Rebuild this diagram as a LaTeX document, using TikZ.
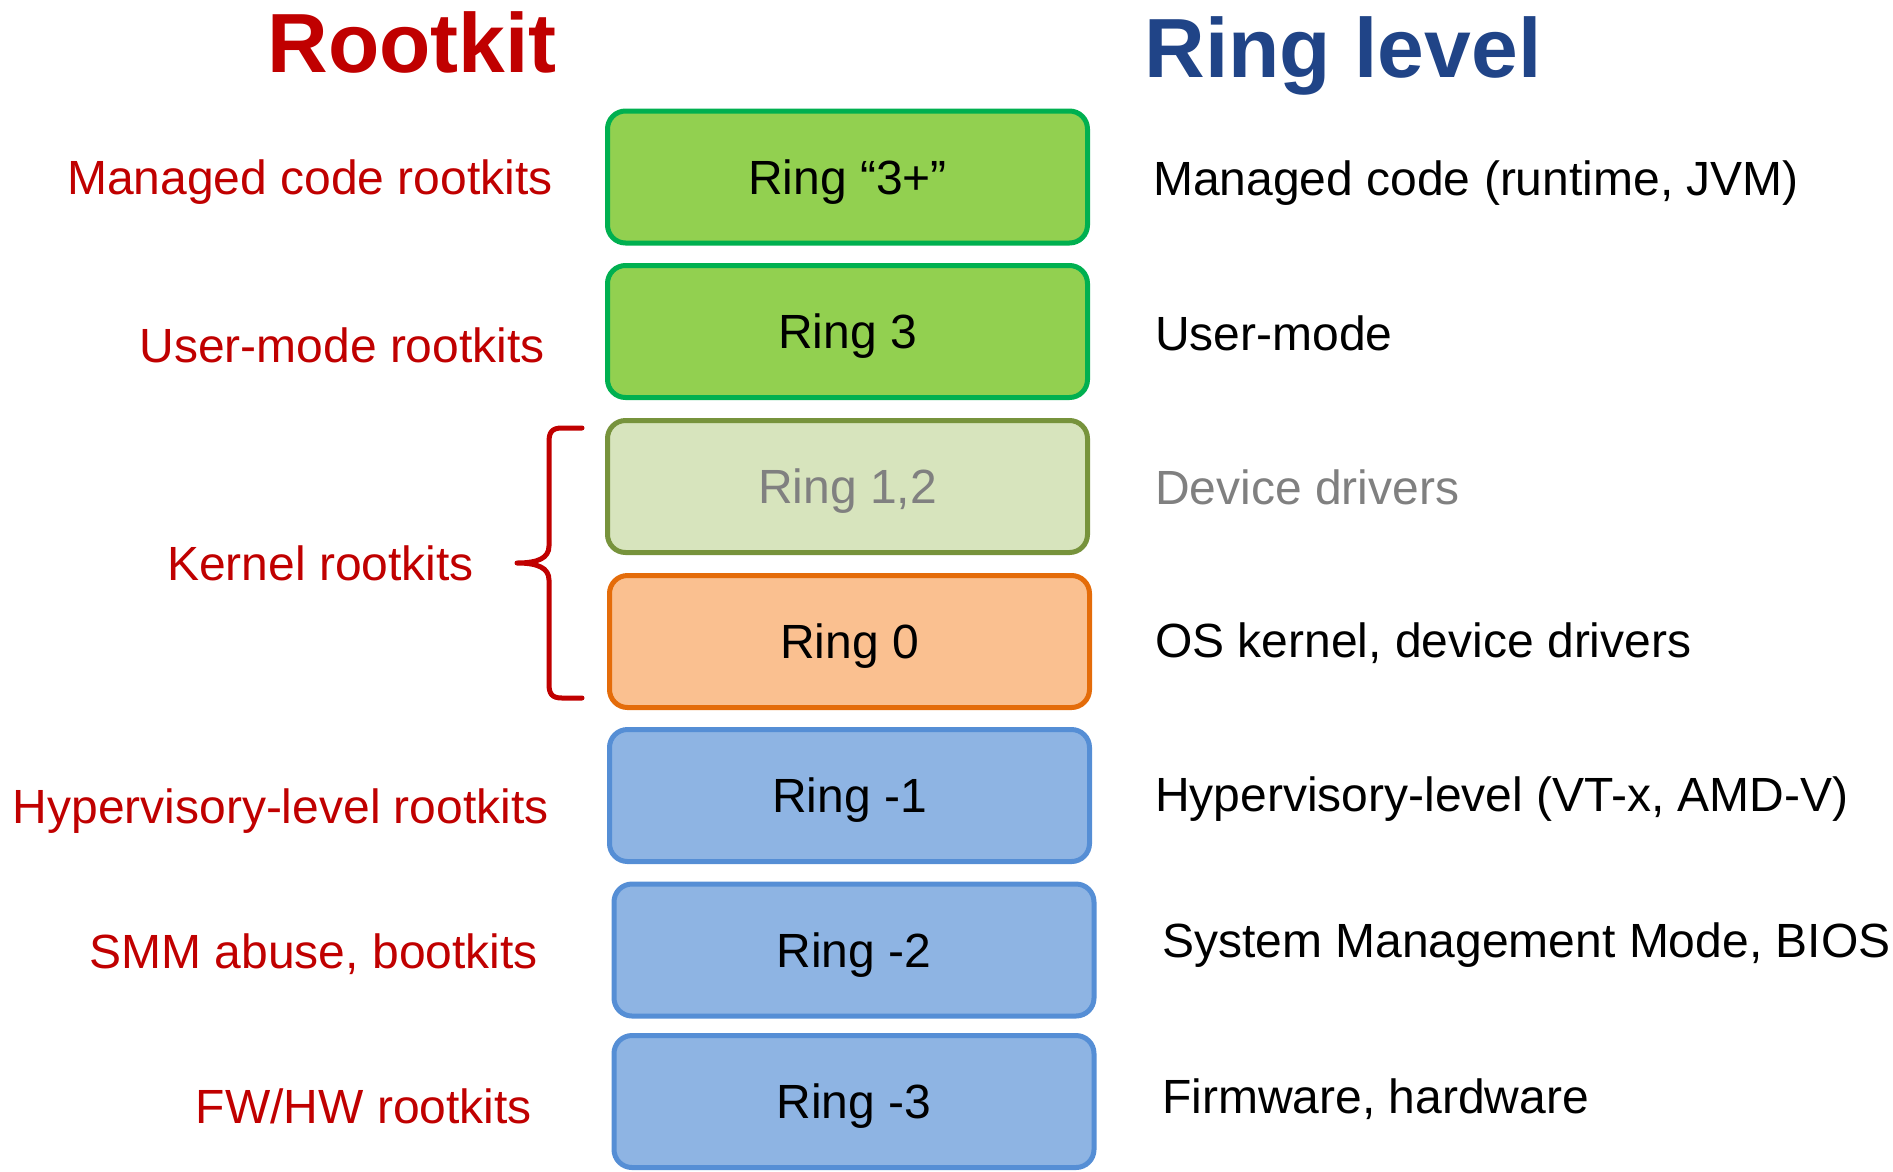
\documentclass[tikz,border=0pt]{standalone}
\usepackage{fontspec}
\setmainfont{Liberation Sans}
\definecolor{rkred}{HTML}{C00000}
\definecolor{lvblue}{RGB}{32,68,135}
\definecolor{grnfill}{HTML}{92D050}
\definecolor{grnline}{HTML}{00B050}
\definecolor{olvfill}{HTML}{D7E4BD}
\definecolor{olvline}{HTML}{77933C}
\definecolor{orgfill}{HTML}{FAC090}
\definecolor{orgline}{HTML}{E46C0A}
\definecolor{blufill}{HTML}{8EB4E3}
\definecolor{bluline}{HTML}{558ED5}
\definecolor{dimtext}{HTML}{808080}
\tikzset{
  ringbox/.style={draw, line width=5pt, rounded corners=18pt, inner sep=0pt,
    minimum width=480pt, minimum height=132pt, text height=34.4pt, text depth=0pt,
    font=\fontsize{48}{56}\selectfont},
  greenbox/.style={ringbox, fill=grnfill, draw=grnline},
  olivebox/.style={ringbox, fill=olvfill, draw=olvline, text=dimtext},
  orangebox/.style={ringbox, fill=orgfill, draw=orgline},
  bluebox/.style={ringbox, fill=blufill, draw=bluline},
  kitlabel/.style={anchor=base east, inner sep=0pt, text=rkred, font=\fontsize{48}{56}\selectfont},
  lvllabel/.style={anchor=base west, inner sep=0pt, font=\fontsize{48}{56}\selectfont},
  heading/.style={anchor=base, inner sep=0pt, font=\fontsize{84}{96}\selectfont\bfseries},
}
\begin{document}
\begin{tikzpicture}[x=1pt, y=-1pt]
\useasboundingbox (0,0) rectangle (1893,1171);

% column headings
\node[heading, text=rkred] (hkit) at (412,72) {Rootkit};
\node[heading, text=lvblue] (hlvl) at (1343,77) {Ring level};

% ring stack
\node[greenbox]  (r3p) at (847.5,177)    {Ring “3+”};
\node[greenbox]  (r3)  at (847.5,331.5)  {Ring 3};
\node[olivebox]  (r12) at (847.5,486.5)  {Ring 1,2};
\node[orangebox] (r0)  at (849.5,641.5)  {Ring 0};
\node[bluebox]   (rm1) at (849.5,795.5)  {Ring -1};
\node[bluebox]   (rm2) at (854,950)      {Ring -2};
\node[bluebox]   (rm3) at (854,1101.5)   {Ring -3};

% rootkit kinds
\node[kitlabel] (k3p) at (553,194)  {Managed code rootkits};
\node[kitlabel] (k3)  at (545,362)  {User-mode rootkits};
\node[kitlabel] (k0)  at (474,580)  {Kernel rootkits};
\node[kitlabel] (km1) at (549,823)  {Hypervisory-level rootkits};
\node[kitlabel] (km2) at (538,968)  {SMM abuse, bootkits};
\node[kitlabel] (km3) at (532,1123) {FW/HW rootkits};

% what runs at each level
\node[lvllabel] (l3p) at (1153,195)  {Managed code (runtime, JVM)};
\node[lvllabel] (l3)  at (1155,350)  {User-mode};
\node[lvllabel, text=dimtext] (l12) at (1155,504) {Device drivers};
\node[lvllabel] (l0)  at (1155,657)  {OS kernel, device drivers};
\node[lvllabel] (lm1) at (1155,811)  {Hypervisory-level (VT-x, AMD-V)};
\node[lvllabel] (lm2) at (1162,957)  {System Management Mode, BIOS};
\node[lvllabel] (lm3) at (1162,1113) {Firmware, hardware};

% brace grouping rings 1,2 and 0 under kernel rootkits
\coordinate (btop) at (582,428);
\coordinate (btip) at (517,563);
\coordinate (bbot) at (582,698);
\draw[rkred, line width=5pt, line join=round, line cap=round]
  (btop) -- (562,428) .. controls (552,428) and (549,432) .. (549,442)
  -- (549,546) .. controls (549,558) and (538,563) .. (btip)
  .. controls (538,563) and (549,568) .. (549,580)
  -- (549,684) .. controls (549,694) and (552,698) .. (562,698) -- (bbot);
\end{tikzpicture}
\end{document}
